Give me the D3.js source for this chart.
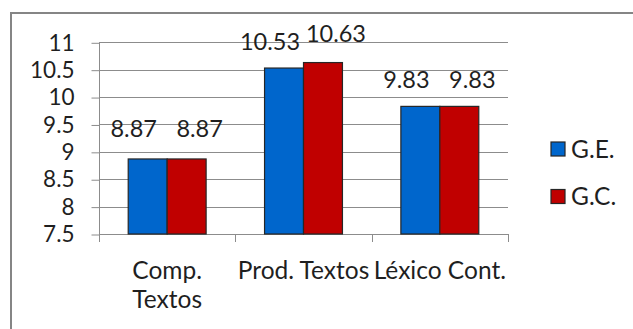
<!DOCTYPE html>
<html>
<head>
<meta charset="utf-8">
<script src="https://cdn.jsdelivr.net/npm/d3@7"></script>
<style>
  html, body { margin: 0; padding: 0; background: #fff; }
  svg { display: block; }
  text { font-family: Lato, "Open Sans", sans-serif; fill: #1f1f1f; }
</style>
</head>
<body>
<svg id="chart" width="633" height="329"></svg>
<script>
// Scores per area, experimental (G.E.) vs control (G.C.) group
const categories = ["Comp. Textos", "Prod. Textos", "Léxico Cont."];
const categoryLines = [["Comp.", "Textos"], ["Prod. Textos"], ["Léxico Cont."]];
const seriesNames = ["G.E.", "G.C."];
const geValues = [8.87, 10.53, 9.83];
const gcValues = [8.87, 10.63, 9.83];
const yTicks = [7.5, 8, 8.5, 9, 9.5, 10, 10.5, 11];
const colors = ["#0066cc", "#c00000"];

const FS_TICK = 22.5, FS_VAL = 23.5, FS_CAT = 24.5;
const svg = d3.select("#chart");
const W = 633, H = 329;
const plot = { left: 99, right: 508, top: 42.3, bottom: 234 };

// Frame around the chart (continues beyond the right and bottom edges)
svg.append("path")
  .attr("d", `M11,${H + 2}V13H${W + 2}`)
  .attr("fill", "none")
  .attr("stroke", "#858585")
  .attr("stroke-width", 2);

const x = d3.scaleBand().domain(categories).range([plot.left, plot.right]).paddingInner(0).paddingOuter(0);
const y = d3.scaleLinear().domain([7.5, 11]).range([plot.bottom, plot.top]);

// Horizontal gridlines
svg.append("g").selectAll("line").data(yTicks.filter(t => t > 7.5)).join("line")
  .attr("x1", plot.left).attr("x2", plot.right)
  .attr("y1", d => Math.round(y(d)) + 0.5).attr("y2", d => Math.round(y(d)) + 0.5)
  .attr("stroke", "#8c8c8c").attr("stroke-width", 1);

// Y axis
const yAxis = d3.axisLeft(y).tickValues(yTicks).tickSize(8).tickPadding(17)
  .tickFormat(d => String(d));
const gy = svg.append("g").attr("transform", `translate(${plot.left + 0.5},0.5)`).call(yAxis);
gy.select(".domain").attr("stroke", "#8c8c8c").attr("d", `M0,${plot.top}V${plot.bottom}`);
gy.selectAll(".tick line").attr("stroke", "#8c8c8c");
gy.selectAll(".tick text").attr("font-size", FS_TICK).attr("fill", "#1f1f1f")
  .attr("font-family", 'Lato, "Open Sans", sans-serif');

// X axis line and category boundary ticks
const gx = svg.append("g");
gx.append("line").attr("x1", plot.left).attr("x2", plot.right)
  .attr("y1", plot.bottom + 0.5).attr("y2", plot.bottom + 0.5).attr("stroke", "#8c8c8c");
const boundaries = categories.map(c => x(c)).concat([x(categories[categories.length - 1]) + x.bandwidth()]);
gx.selectAll("line.tk").data(boundaries).join("line").attr("class", "tk")
  .attr("x1", d => Math.round(d) + 0.5).attr("x2", d => Math.round(d) + 0.5)
  .attr("y1", plot.bottom).attr("y2", plot.bottom + 8).attr("stroke", "#8c8c8c");

// Category labels
const catLabels = svg.append("g").selectAll("text").data(categories).join("text")
  .attr("text-anchor", "middle").attr("font-size", FS_CAT)
  .attr("x", d => x(d) + x.bandwidth() / 2)
  .attr("y", 278.5);
catLabels.each(function(d, i) {
  const t = d3.select(this);
  categoryLines[i].forEach((line, j) => {
    t.append("tspan").attr("x", x(d) + x.bandwidth() / 2).attr("dy", j === 0 ? 0 : 29.5).text(line);
  });
});

// Bars: two series per category, 150% gap between groups
const inner = d3.scaleBand().domain(seriesNames).range([0, x.bandwidth()]).paddingOuter(0.75).paddingInner(0);
const series = [geValues, gcValues];
const bars = svg.append("g");
series.forEach((vals, s) => {
  bars.selectAll(`rect.s${s}`).data(vals).join("rect").attr("class", `s${s}`)
    .attr("x", (d, i) => x(categories[i]) + inner(seriesNames[s]))
    .attr("width", inner.bandwidth())
    .attr("y", d => y(d))
    .attr("height", d => y(7.5) - y(d))
    .attr("fill", colors[s])
    .attr("stroke", "#262626").attr("stroke-width", 1.2);
});

// Value labels above the bars
const labelShift = [-14, 13];
const labelLift = [[22, 18, 18], [22, 21, 18]];
series.forEach((vals, s) => {
  svg.append("g").selectAll("text").data(vals).join("text")
    .attr("text-anchor", "middle").attr("font-size", FS_VAL)
    .attr("x", (d, i) => x(categories[i]) + inner(seriesNames[s]) + inner.bandwidth() / 2 + labelShift[s])
    .attr("y", (d, i) => y(d) - labelLift[s][i])
    .text(d => d.toFixed(2));
});

// Legend
const legend = svg.append("g").selectAll("g").data(seriesNames).join("g")
  .attr("transform", (d, i) => `translate(551,${142 + i * 47.5})`);
legend.append("rect").attr("width", 14).attr("height", 14)
  .attr("fill", (d, i) => colors[i]).attr("stroke", "#262626").attr("stroke-width", 1.2);
legend.append("text").attr("x", 20).attr("y", 15.5).attr("font-size", FS_CAT).text(d => d);
</script>
</body>
</html>
